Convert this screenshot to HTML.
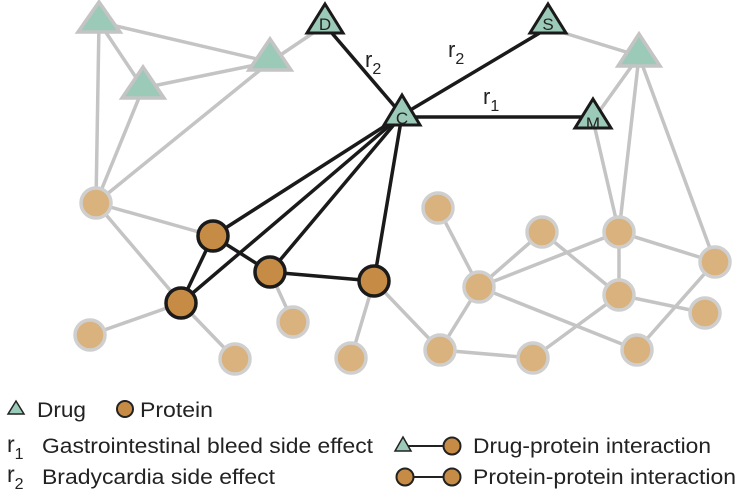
<!DOCTYPE html>
<html><head><meta charset="utf-8"><style>
html,body{margin:0;padding:0;background:#fff;}
svg{display:block;}
text{font-family:"Liberation Sans",Arial,sans-serif;fill:#222;}
</style></head><body>
<svg width="738" height="493" viewBox="0 0 738 493" xmlns="http://www.w3.org/2000/svg">
<g stroke="#c4c4c4" stroke-width="3.5" fill="none">
<line x1="99" y1="22" x2="270" y2="62"/>
<line x1="99" y1="22" x2="143" y2="88"/>
<line x1="99" y1="22" x2="96" y2="203"/>
<line x1="143" y1="88" x2="270" y2="62"/>
<line x1="143" y1="88" x2="96" y2="203"/>
<line x1="270" y1="62" x2="96" y2="203"/>
<line x1="270" y1="62" x2="325" y2="25"/>
<line x1="96" y1="203" x2="213" y2="236"/>
<line x1="96" y1="203" x2="181" y2="303"/>
<line x1="181" y1="303" x2="90" y2="335"/>
<line x1="181" y1="303" x2="235" y2="359"/>
<line x1="270" y1="272" x2="293" y2="322"/>
<line x1="374" y1="281" x2="351" y2="358"/>
<line x1="374" y1="281" x2="440" y2="350"/>
<line x1="438" y1="208" x2="479" y2="287"/>
<line x1="542" y1="232" x2="479" y2="287"/>
<line x1="542" y1="232" x2="619" y2="295"/>
<line x1="479" y1="287" x2="619" y2="232"/>
<line x1="479" y1="287" x2="637" y2="350"/>
<line x1="479" y1="287" x2="440" y2="350"/>
<line x1="440" y1="350" x2="533" y2="358"/>
<line x1="533" y1="358" x2="619" y2="295"/>
<line x1="619" y1="232" x2="619" y2="295"/>
<line x1="619" y1="232" x2="715" y2="262"/>
<line x1="619" y1="295" x2="705" y2="313"/>
<line x1="715" y1="262" x2="637" y2="350"/>
<line x1="593" y1="120" x2="619" y2="232"/>
<line x1="639" y1="56" x2="593" y2="120"/>
<line x1="639" y1="56" x2="619" y2="232"/>
<line x1="639" y1="56" x2="715" y2="262"/>
<line x1="548" y1="28" x2="639" y2="56"/>
</g>
<g stroke="#1a1a1a" stroke-width="3.5" fill="none">
<line x1="402" y1="115" x2="325" y2="25"/>
<line x1="402" y1="115" x2="548" y2="28"/>
<line x1="402" y1="117" x2="593" y2="117"/>
<line x1="402" y1="115" x2="213" y2="236"/>
<line x1="402" y1="115" x2="270" y2="272"/>
<line x1="402" y1="115" x2="374" y2="281"/>
<line x1="402" y1="115" x2="181" y2="303"/>
<line x1="213" y1="236" x2="270" y2="272"/>
<line x1="213" y1="236" x2="181" y2="303"/>
<line x1="270" y1="272" x2="374" y2="281"/>
</g>
<g fill="#9ccab8" stroke="#c4c4c4" stroke-width="3.5" stroke-linejoin="miter">
<polygon points="99,2 120,32 78,32"/>
<polygon points="143,67 164,98 122,98"/>
<polygon points="270,39 291,70 249,70"/>
<polygon points="639,34 660,66 618,66"/>
</g>
<g fill="#9ccab8" stroke="#1a1a1a" stroke-width="3" stroke-linejoin="miter">
<polygon points="325,4 343,33 307,33"/>
<polygon points="548,4 566,33 530,33"/>
<polygon points="402,95 420,125 384,125"/>
<polygon points="593,99 611,128 575,128"/>
</g>
<g font-size="17" text-anchor="middle">
<text x="325" y="30">D</text>
<text x="548" y="30">S</text>
<text x="402" y="124">C</text>
<text x="593" y="129">M</text>
</g>
<g fill="#d9b27d" stroke="#cfcfcf" stroke-width="3.5">
<circle cx="96" cy="203" r="15"/>
<circle cx="90" cy="335" r="15"/>
<circle cx="235" cy="359" r="15"/>
<circle cx="293" cy="322" r="15"/>
<circle cx="351" cy="358" r="15"/>
<circle cx="438" cy="208" r="15"/>
<circle cx="542" cy="232" r="15"/>
<circle cx="619" cy="232" r="15"/>
<circle cx="715" cy="262" r="15"/>
<circle cx="479" cy="287" r="15"/>
<circle cx="619" cy="295" r="15"/>
<circle cx="705" cy="313" r="15"/>
<circle cx="440" cy="350" r="15"/>
<circle cx="533" cy="358" r="15"/>
<circle cx="637" cy="350" r="15"/>
</g>
<g fill="#c68c45" stroke="#1a1a1a" stroke-width="3.5">
<circle cx="213" cy="236" r="15"/>
<circle cx="270" cy="272" r="15"/>
<circle cx="374" cy="281" r="15"/>
<circle cx="181" cy="303" r="15"/>
</g>
<g font-size="22">
<text x="365" y="67">r<tspan font-size="16" dy="7">2</tspan></text>
<text x="448" y="57">r<tspan font-size="16" dy="7">2</tspan></text>
<text x="483" y="104">r<tspan font-size="16" dy="7">1</tspan></text>
</g>
<!-- legend -->
<polygon points="16,401 24,414 8,414" fill="#9ccab8" stroke="#222" stroke-width="1.5"/>
<text x="37" y="417" font-size="21" textLength="49" lengthAdjust="spacingAndGlyphs">Drug</text>
<circle cx="125" cy="409" r="8" fill="#c68c45" stroke="#222" stroke-width="2"/>
<text x="140" y="417" font-size="21" textLength="73" lengthAdjust="spacingAndGlyphs">Protein</text>
<text x="7" y="452" font-size="23">r<tspan font-size="16" dy="7">1</tspan></text>
<text x="42" y="453" font-size="21" textLength="331" lengthAdjust="spacingAndGlyphs">Gastrointestinal bleed side effect</text>
<text x="7" y="482" font-size="23">r<tspan font-size="16" dy="7">2</tspan></text>
<text x="42" y="484" font-size="21" textLength="233" lengthAdjust="spacingAndGlyphs">Bradycardia side effect</text>
<line x1="403" y1="446" x2="452" y2="446" stroke="#222" stroke-width="2"/>
<polygon points="403,437 411,451 395,451" fill="#9ccab8" stroke="#222" stroke-width="1.5"/>
<circle cx="452" cy="446" r="8.5" fill="#c68c45" stroke="#222" stroke-width="2"/>
<text x="473" y="453" font-size="21" textLength="238" lengthAdjust="spacingAndGlyphs">Drug-protein interaction</text>
<line x1="405" y1="477" x2="452" y2="477" stroke="#222" stroke-width="2"/>
<circle cx="405" cy="477" r="8.5" fill="#c68c45" stroke="#222" stroke-width="2"/>
<circle cx="452" cy="477" r="8.5" fill="#c68c45" stroke="#222" stroke-width="2"/>
<text x="473" y="484" font-size="21" textLength="263" lengthAdjust="spacingAndGlyphs">Protein-protein interaction</text>
</svg>
</body></html>
